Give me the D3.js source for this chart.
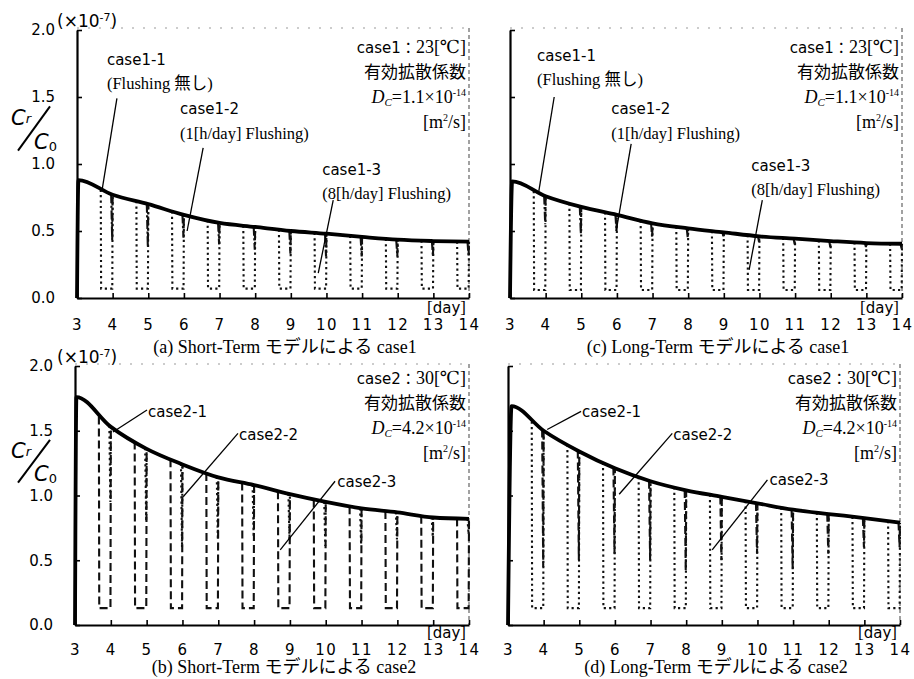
<!DOCTYPE html>
<html>
<head>
<meta charset="utf-8">
<script src="https://cdn.jsdelivr.net/npm/d3@7"></script>
<style>
body { margin: 0; background: #fff; }
</style>
</head>
<body>
<script>
const days = [3, 4, 5, 6, 7, 8, 9, 10, 11, 12, 13, 14]
const flushDays = [4, 5, 6, 7, 8, 9, 10, 11, 12, 13, 14]
const yTicks = [0, 0.5, 1.0, 1.5, 2.0]
const yTickLabels = ['0.0', '0.5', '1.0', '1.5', '2.0']

// (a) Short-Term case1
const peakA = [3.04, 0.88]
const baseA = [0.77, 0.70, 0.62, 0.56, 0.53, 0.50, 0.48, 0.456, 0.435, 0.425, 0.42]
const dipA = [0.43, 0.38, 0.45, 0.40, 0.36, 0.33, 0.31, 0.31, 0.31, 0.31, 0.31]
const lowA = 0.07

// (c) Long-Term case1
const peakC = [3.06, 0.87]
const baseC = [0.76, 0.68, 0.62, 0.557, 0.52, 0.49, 0.46, 0.443, 0.425, 0.41, 0.405]
const dipC = [0.55, 0.48, 0.50, 0.45, 0.45, 0.46, 0.42, 0.40, 0.38, 0.38, 0.37]
const lowC = 0.06

// (b) Short-Term case2
const peakB = [3.04, 1.76]
const baseB = [1.53, 1.36, 1.24, 1.14, 1.08, 1.01, 0.95, 0.90, 0.87, 0.83, 0.82]
const dipB = [0.95, 0.80, 0.60, 0.66, 0.68, 0.66, 0.61, 0.62, 0.66, 0.68, 0.70]
const lowB = 0.13

// (d) Long-Term case2
const peakD = [3.1, 1.69]
const baseD = [1.50, 1.34, 1.21, 1.11, 1.04, 0.99, 0.94, 0.89, 0.857, 0.826, 0.79]
const dipD = [0.45, 0.50, 0.55, 0.50, 0.42, 0.50, 0.55, 0.43, 0.55, 0.60, 0.60]
const lowD = 0.13

const captions = ['(a) Short-Term モデルによる case1', '(b) Short-Term モデルによる case2',
                  '(c) Long-Term モデルによる case1', '(d) Long-Term モデルによる case2']
const case1Info = ['case1', '23', '1.1']
const case2Info = ['case2', '30', '4.2']

const notesA = [
    {lines: ['case1-1', '(Flushing 無し)'], at: [3.84, 1.78], from: [4.12, 1.49], to: [3.70, 0.80]},
    {lines: ['case1-2', '(1[h/day] Flushing)'], at: [5.89, 1.41], from: [6.54, 1.12], to: [6.09, 0.50]},
    {lines: ['case1-3', '(8[h/day] Flushing)'], at: [9.88, 0.96], from: [10.19, 0.73], to: [9.77, 0.185]}
]
const notesC = [
    {lines: ['case1-1', '(Flushing 無し)'], at: [3.76, 1.81], from: [4.24, 1.50], to: [3.81, 0.80]},
    {lines: ['case1-2', '(1[h/day] Flushing)'], at: [5.84, 1.41], from: [6.40, 1.15], to: [5.98, 0.50]},
    {lines: ['case1-3', '(8[h/day] Flushing)'], at: [9.77, 0.99], from: [10.08, 0.73], to: [9.71, 0.21]}
]
const notesB = [
    {lines: ['case2-1'], at: [5.04, 1.65], from: [5.01, 1.66], to: [4.06, 1.49]},
    {lines: ['case2-2'], at: [7.58, 1.47], from: [7.55, 1.48], to: [6.02, 0.99]},
    {lines: ['case2-3'], at: [10.32, 1.11], from: [10.26, 1.11], to: [8.73, 0.58]}
]
const notesD = [
    {lines: ['case2-1'], at: [5.08, 1.65], from: [5.05, 1.65], to: [4.10, 1.51]},
    {lines: ['case2-2'], at: [7.64, 1.47], from: [7.61, 1.48], to: [6.12, 1.01]},
    {lines: ['case2-3'], at: [10.34, 1.12], from: [10.28, 1.12], to: [8.73, 0.58]}
]

const fSans = '"DejaVu Sans", "Noto Sans", sans-serif'
const fSerif = '"Liberation Serif", "DejaVu Serif", "Noto Sans CJK JP", serif'
const fCjk = '"Noto Sans CJK JP", sans-serif'
const dotted = '2.2,3.2'
const dashed = '8,4'
const dashDot = '9,2.5,2.2,2.5'

const panels = [
    {left: 77, right: 469, top: 30, bottom: 298, peak: peakA, base: baseA, dip: dipA, low: lowA,
     dash8: dotted, dash1: dashDot, notes: notesA, info: case1Info, caption: captions[0], yLabels: true,
     infoDy: 23, capDy: 55, tickPad: 21, dayDy: 15},
    {left: 75, right: 469, top: 366, bottom: 625, peak: peakB, base: baseB, dip: dipB, low: lowB,
     dash8: dashed, dash1: dotted, notes: notesB, info: case2Info, caption: captions[1], yLabels: true,
     infoDy: 18, capDy: 48, tickPad: 19, dayDy: 13},
    {left: 510, right: 902, top: 30, bottom: 298, peak: peakC, base: baseC, dip: dipC, low: lowC,
     dash8: dotted, dash1: dashDot, notes: notesC, info: case1Info, caption: captions[2], yLabels: false,
     infoDy: 23, capDy: 55, tickPad: 21, dayDy: 15},
    {left: 508, right: 900, top: 366, bottom: 625, peak: peakD, base: baseD, dip: dipD, low: lowD,
     dash8: dotted, dash1: dashed, notes: notesD, info: case2Info, caption: captions[3], yLabels: false,
     infoDy: 18, capDy: 48, tickPad: 19, dayDy: 13}
]

const svg = d3.select('body').append('svg')
    .attr('width', 914)
    .attr('height', 679)
    .style('background', '#fff')

function drawPanel(p) {
    const g = svg.append('g')
    const x = d3.scaleLinear().domain([3, 14]).range([p.left, p.right])
    const y = d3.scaleLinear().domain([0, 2]).range([p.bottom, p.top])
    const topOf = d3.scaleLinear().domain([p.peak[0]].concat(flushDays)).range([p.peak[1]].concat(p.base))
    const line = d3.line().x(d => x(d[0])).y(d => y(d[1]))

    // frame top / right (faint in the scan)
    g.append('line')
        .attr('x1', p.left).attr('x2', p.right)
        .attr('y1', y(2) - 2).attr('y2', y(2) - 2)
        .attr('stroke', '#999').attr('stroke-width', 1).attr('stroke-dasharray', '2,9')
    g.append('line')
        .attr('x1', p.right).attr('x2', p.right)
        .attr('y1', y(2) - 2).attr('y2', y(0))
        .attr('stroke', '#555').attr('stroke-width', 1.1).attr('stroke-dasharray', '4,3')

    const yAxis = d3.axisLeft(y).tickValues(yTicks).tickSize(-5).tickSizeOuter(0).tickPadding(22)
        .tickFormat((d, i) => p.yLabels ? yTickLabels[i] : '')
    const gy = g.append('g').attr('transform', `translate(${p.left},0)`).call(yAxis)
    const xAxis = d3.axisBottom(x).tickValues(days).tickSize(-5).tickSizeOuter(0).tickPadding(p.tickPad)
        .tickFormat(d => d)
    const gx = g.append('g').attr('transform', `translate(0,${p.bottom})`).call(xAxis)
    for (const a of [gx, gy]) {
        a.select('.domain').attr('stroke', '#000').attr('stroke-width', 2.2)
        a.selectAll('.tick line').attr('stroke', '#000').attr('stroke-width', 1.6)
        a.selectAll('.tick text').attr('fill', '#000').style('font-family', fSans).style('font-size', '15px')
    }
    gx.selectAll('.tick text').style('letter-spacing', '1.5px')

    // 8 h/day flushing
    g.selectAll('.f8')
        .data(flushDays)
        .join('path')
        .attr('class', 'f8')
        .attr('d', n => {
            let t = n - 8 / 24
            return line([[t, topOf(t)], [t + 0.01, p.low], [n - 0.01, p.low], [n, topOf(n)]])
        })
        .attr('fill', 'none').attr('stroke', '#111').attr('stroke-width', 2.1)
        .attr('stroke-dasharray', p.dash8)

    // 1 h/day flushing
    g.selectAll('.f1')
        .data(flushDays)
        .join('path')
        .attr('class', 'f1')
        .attr('d', (n, i) => {
            let t = n - 1 / 24
            return line([[t, topOf(t)], [n - 0.012, p.dip[i]], [n, topOf(n)]])
        })
        .attr('fill', 'none').attr('stroke', '#111').attr('stroke-width', 2.1)
        .attr('stroke-dasharray', p.dash1)

    // no flushing
    let basePts = [[3, 0], p.peak].concat(flushDays.map((n, i) => [n, p.base[i]]))
    g.append('path')
        .attr('d', d3.line().x(d => x(d[0])).y(d => y(d[1])).curve(d3.curveMonotoneX)(basePts))
        .attr('fill', 'none').attr('stroke', '#000').attr('stroke-width', 3.8)
        .attr('stroke-linejoin', 'round')

    // annotations
    for (const nt of p.notes) {
        g.append('line')
            .attr('x1', x(nt.from[0])).attr('y1', y(nt.from[1]))
            .attr('x2', x(nt.to[0])).attr('y2', y(nt.to[1]))
            .attr('stroke', '#000').attr('stroke-width', 1.3)
        nt.lines.forEach((s, k) => {
            g.append('text')
                .attr('x', x(nt.at[0]))
                .attr('y', y(nt.at[1]) + k * 24)
                .attr('dy', '0.35em')
                .style('font-family', k === 0 ? fSans : fSerif)
                .style('font-size', k === 0 ? '15px' : '16.5px')
                .text(s)
        })
    }

    // case info block
    const rx = p.right - 3
    const t1 = g.append('text').attr('x', rx).attr('y', p.top + p.infoDy).attr('text-anchor', 'end')
    t1.append('tspan').style('font-family', fSans).style('font-size', '15px').text(p.info[0])
    t1.append('tspan').style('font-family', fCjk).style('font-size', '15px').text('：')
    t1.append('tspan').style('font-family', fSerif).style('font-size', '18px').text(p.info[1] + '[℃]')

    g.append('text').attr('x', rx).attr('y', p.top + p.infoDy + 25).attr('text-anchor', 'end')
        .style('font-family', fCjk).style('font-size', '17px').text('有効拡散係数')

    const t3 = g.append('text').attr('x', rx).attr('y', p.top + p.infoDy + 50).attr('text-anchor', 'end')
        .style('font-family', fSerif).style('font-size', '18px')
    t3.append('tspan').style('font-style', 'italic').text('D')
    t3.append('tspan').style('font-style', 'italic').style('font-size', '11px').attr('dy', 3).text('C')
    t3.append('tspan').attr('dy', -3).text('=' + p.info[2] + '×10')
    t3.append('tspan').style('font-size', '10px').attr('dy', -7).text('-14')

    const t4 = g.append('text').attr('x', rx).attr('y', p.top + p.infoDy + 75).attr('text-anchor', 'end')
        .style('font-family', fSerif).style('font-size', '18px')
    t4.append('tspan').text('[m')
    t4.append('tspan').style('font-size', '10px').attr('dy', -7).text('2')
    t4.append('tspan').attr('dy', 7).text('/s]')

    // [day]
    const td = g.append('text').attr('x', p.right - 3).attr('y', p.bottom + p.dayDy).attr('text-anchor', 'end')
        .style('font-size', '15px')
    td.append('tspan').style('font-family', fSerif).style('font-size', '17px').text('[')
    td.append('tspan').style('font-family', fSans).text('day')
    td.append('tspan').style('font-family', fSerif).style('font-size', '17px').text(']')

    // caption
    g.append('text')
        .attr('x', (p.left + p.right) / 2 + 12)
        .attr('y', p.bottom + p.capDy)
        .attr('text-anchor', 'middle')
        .style('font-family', fSerif).style('font-size', '18px')
        .text(p.caption)

    if (p.yLabels) {
        const ex = g.append('text').attr('x', 57).attr('y', y(2) - 3)
            .style('font-family', fSans).style('font-size', '17px')
        ex.append('tspan').text('(×10')
        ex.append('tspan').style('font-size', '11px').attr('dy', -6).text('-7')
        ex.append('tspan').attr('dy', 6).text(')')

        const c1 = g.append('text').attr('x', 11).attr('y', y(1.29))
            .style('font-family', fSans).style('font-style', 'italic').style('font-size', '21px')
        c1.append('tspan').text('C')
        c1.append('tspan').style('font-size', '13px').attr('dy', -2).text('r')
        g.append('line')
            .attr('x1', 50).attr('y1', y(1.43))
            .attr('x2', 18).attr('y2', y(1.10))
            .attr('stroke', '#000').attr('stroke-width', 2)
        const c2 = g.append('text').attr('x', 34).attr('y', y(1.11))
            .style('font-family', fSans).style('font-style', 'italic').style('font-size', '21px')
        c2.append('tspan').text('C')
        c2.append('tspan').style('font-style', 'normal').style('font-size', '13px').attr('dy', 2).text('0')
    }
}

panels.forEach(drawPanel)
</script>
</body>
</html>
